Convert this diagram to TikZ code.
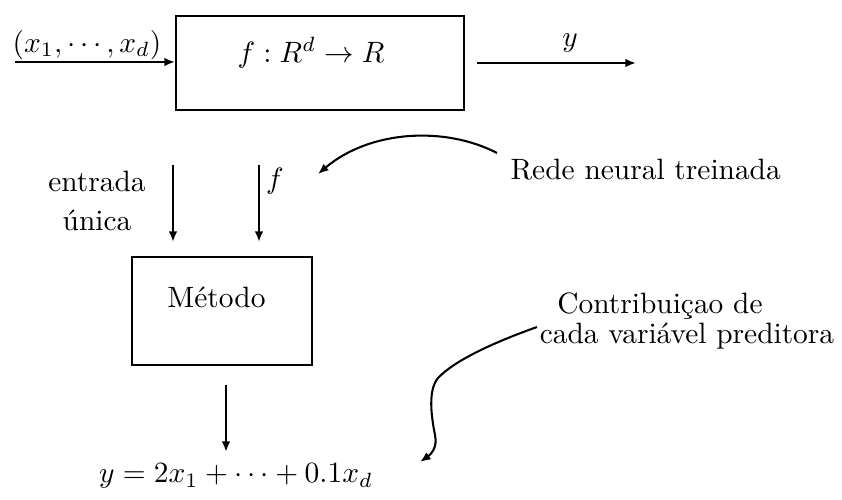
\documentclass[tikz,border=0pt]{standalone}
\usetikzlibrary{arrows.meta}
\begin{document}
\begin{tikzpicture}[x=0.34pt,y=-0.34pt,
  box/.style={draw,line width=0.7pt,rectangle,inner sep=0pt},
  arr/.style={line width=0.7pt,-{Latex[length=3.6pt,width=2.9pt]}},
  txt/.style={inner sep=0pt}]
\useasboundingbox (0,0) rectangle (842,500);
% top box
\node (fbox) [box,minimum width=97.9pt,minimum height=32pt] at (320,63) {};
\node (ft) [txt] at (311,53) {$f : R^d \to R$};
% input
\coordinate (inL) at (15,62);
\draw[arr] (inL) -- (inL -| fbox.west);
\node (xin) [txt] at (87,45) {$(x_1,\cdots,x_d)$};
% output
\coordinate (o1) at (477,63);
\coordinate (o2) at (636,63);
\draw[arr] (o1) -- (o2);
\node (yout) [txt] at (570,43) {$y$};
% downward arrows to Metodo
\coordinate (e1) at (173,165);
\coordinate (e2) at (173,242);
\coordinate (f1) at (259,165);
\coordinate (f2) at (259,242);
\draw[arr] (e1) -- (e2);
\draw[arr] (f1) -- (f2);
\node (ent) [txt,align=center] at (97,201) {entrada\\[1pt]única};
\node (flab) [txt] at (275,181) {$f$};
% Rede neural
\node (rede) [txt,anchor=west] at (510,170) {Rede neural treinada};
\coordinate (r0) at (497,153);
\coordinate (r1) at (318,174);
\draw[arr] (r0) .. controls (445,126) and (370,130) .. (r1);
% Metodo box
\node (mbox) [box,minimum width=61.2pt,minimum height=36.7pt] at (222,311) {};
\node (mt) [txt] at (216.5,297) {Método};
\coordinate (m1) at (226,385);
\coordinate (m2) at (226,452);
\draw[arr] (m1) -- (m2);
\node (eq) [txt] at (236,476) {$y = 2x_1 + \cdots + 0.1x_d$};
% Contribuicao
\node (c1) [txt] at (660,306) {Contribuiçao de};
\node (c2) [txt] at (687,336) {cada variável preditora};
\coordinate (w0) at (537,327);
\coordinate (w1) at (420,462);
\draw[arr] (w0) .. controls (495,342) and (455,360) .. (438,378)
  .. controls (428,390) and (431,415) .. (435,435)
  .. controls (438,448) and (430,455) .. (w1);
\end{tikzpicture}
\end{document}
